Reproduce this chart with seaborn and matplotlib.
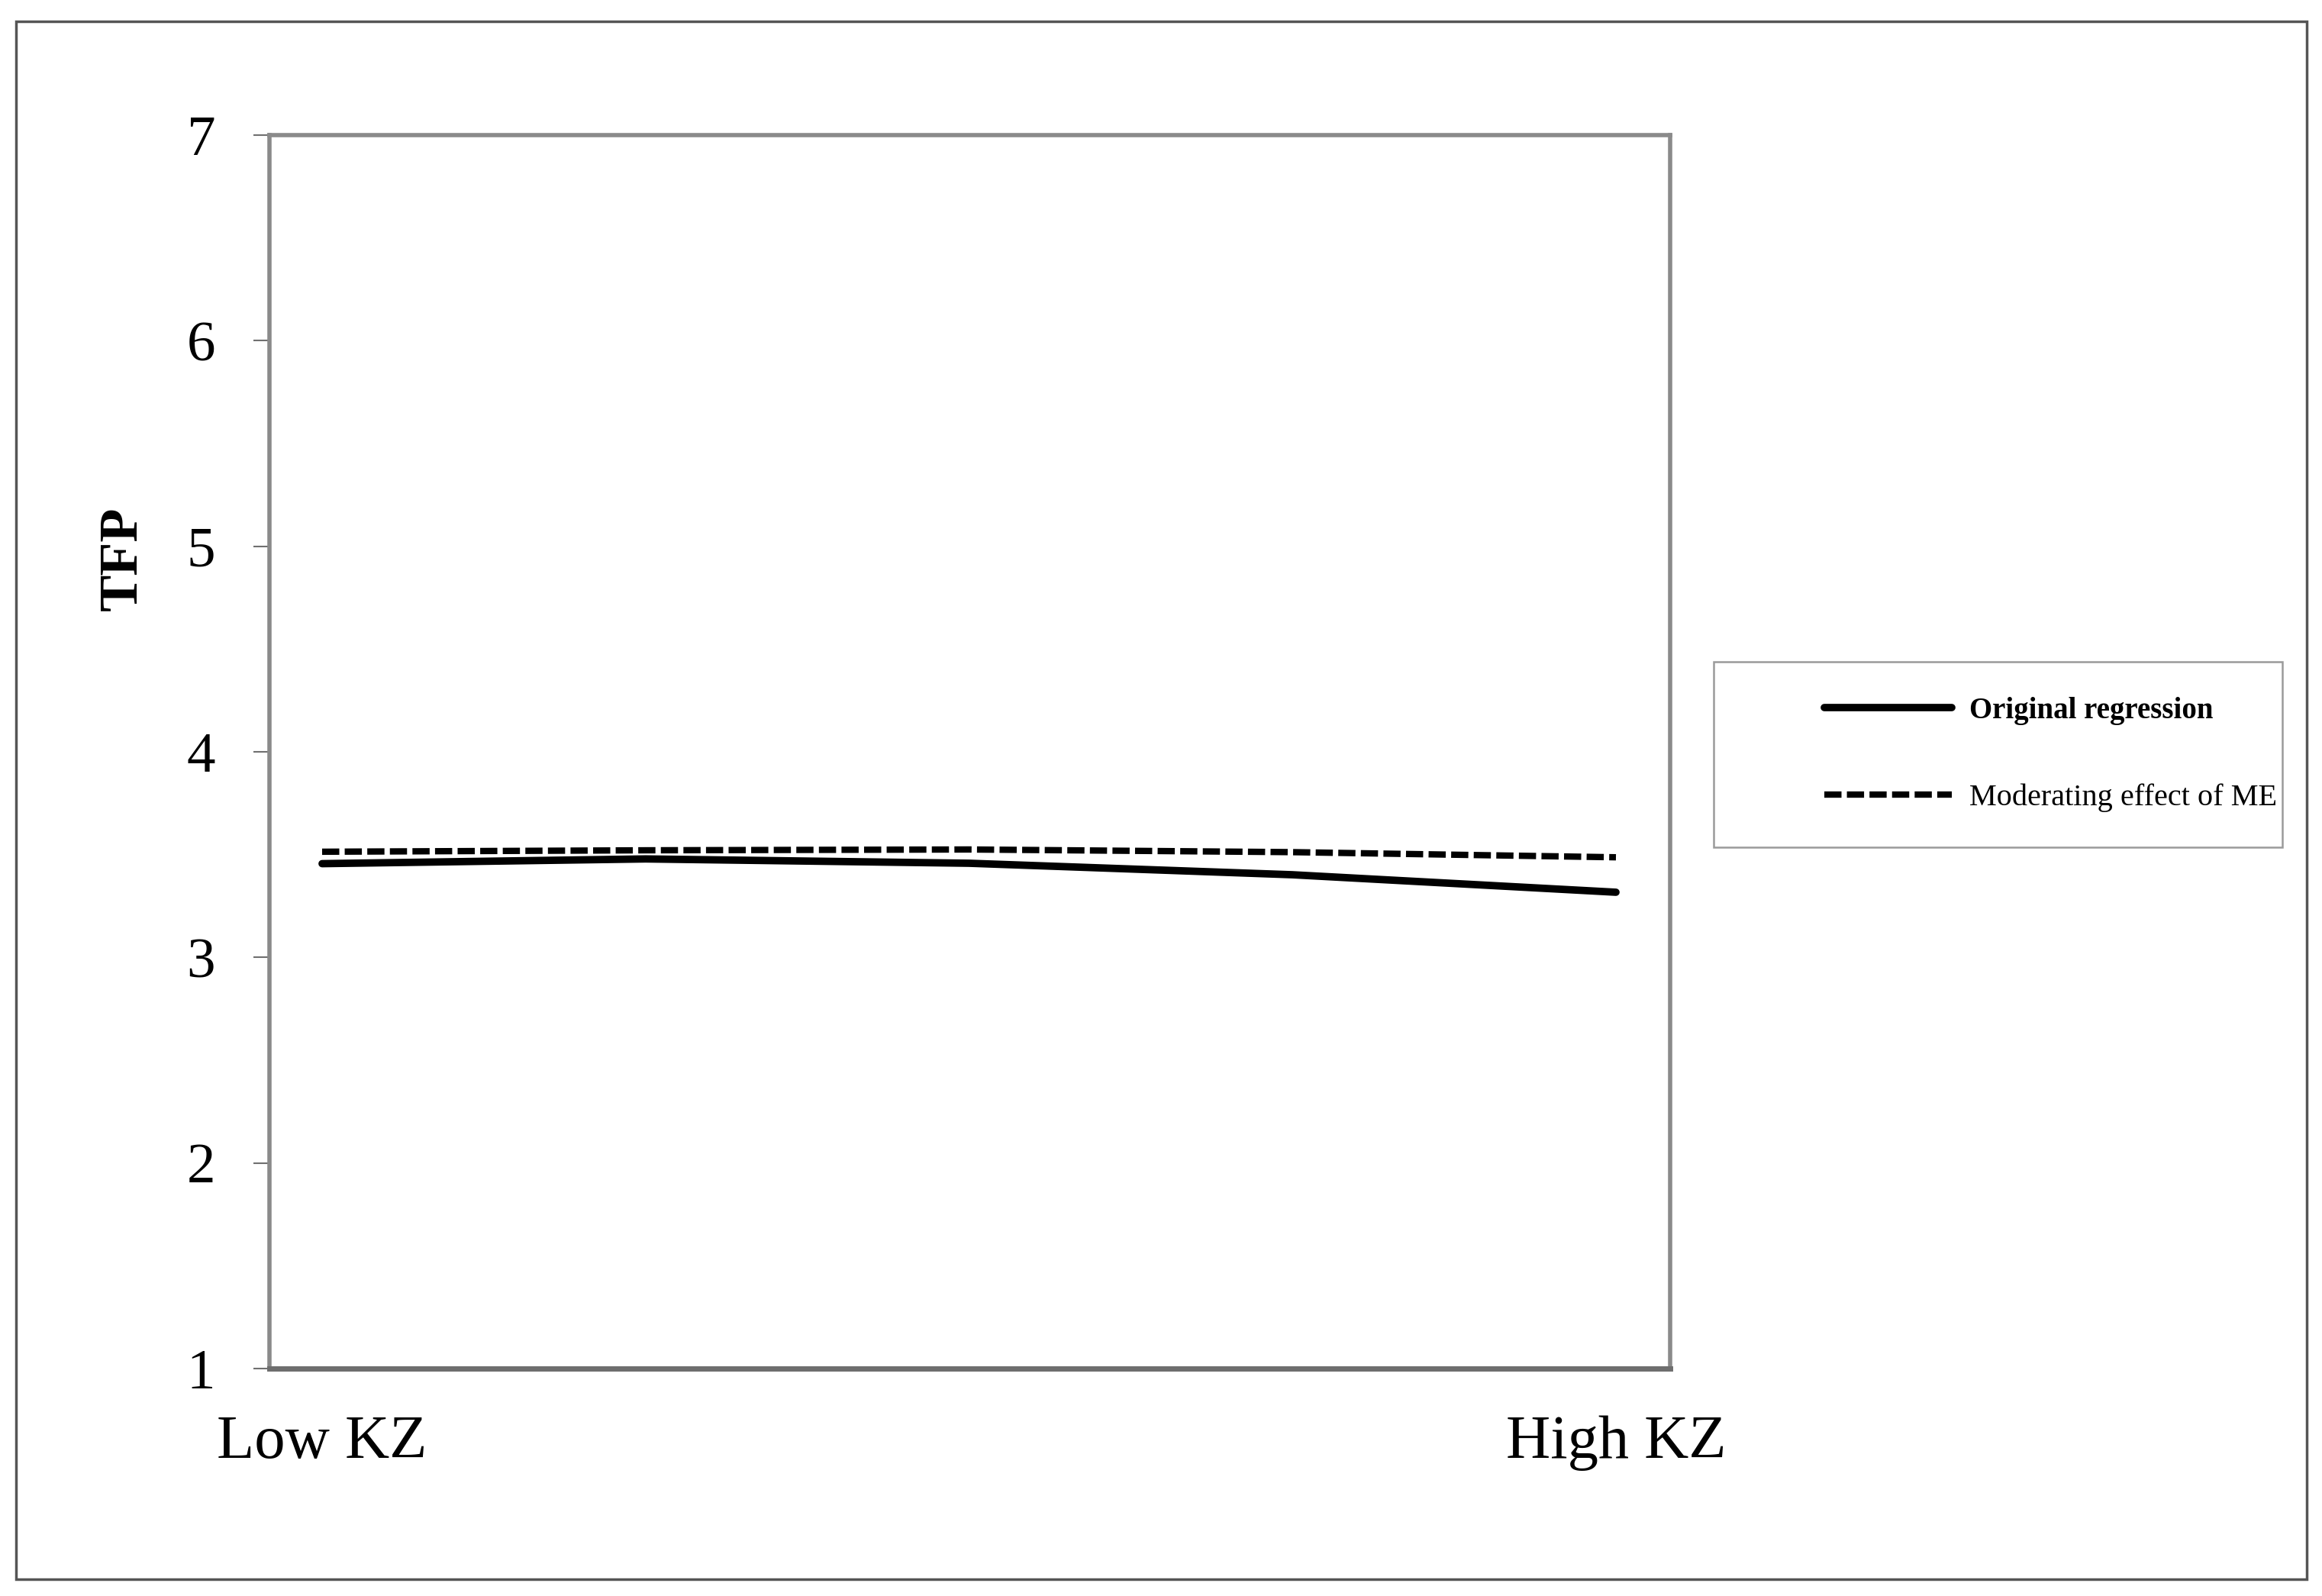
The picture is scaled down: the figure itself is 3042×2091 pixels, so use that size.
import matplotlib
matplotlib.use("Agg")
import matplotlib.pyplot as plt
import matplotlib.patches as mpatches
import numpy as np
import pandas as pd
import seaborn as sns

# ---- data ----
kz_position = [0.0, 0.25, 0.5, 0.75, 1.0]
original_regression = [3.456, 3.479, 3.458, 3.402, 3.317]
moderating_effect_me = [3.514, 3.521, 3.525, 3.512, 3.487]
x_tick_labels = ["Low KZ", "High KZ"]
y_ticks = [1, 2, 3, 4, 5, 6, 7]
series_names = ["Original regression", "Moderating effect of ME"]

sns.set_theme(style="white")
plt.rcParams["font.family"] = ["Liberation Serif", "DejaVu Serif"]
plt.rcParams["text.color"] = "black"
plt.rcParams["axes.labelcolor"] = "black"
plt.rcParams["xtick.color"] = "black"
plt.rcParams["ytick.color"] = "black"

W, H = 3042, 2091
fig = plt.figure(figsize=(W / 100, H / 100), dpi=100)
ax = fig.add_axes([353 / W, 1 - 1793 / H, (2188 - 353) / W, (1793 - 177) / H])

df_orig = pd.DataFrame({"x": kz_position, "y": original_regression})
df_mod = pd.DataFrame({"x": kz_position, "y": moderating_effect_me})

sns.lineplot(data=df_mod, x="x", y="y", ax=ax, color="black", linewidth=6,
             linestyle=(0, (2.7, 0.85)), label=series_names[1])
sns.lineplot(data=df_orig, x="x", y="y", ax=ax, color="black", linewidth=7,
             label=series_names[0])

ax.set_xlim(-69 / 1695, 1 + 71 / 1695)
ax.set_ylim(1, 7)
ax.set_yticks(y_ticks)
ax.set_yticklabels([str(t) for t in y_ticks])
ax.set_xticks([0, 1])
ax.set_xticklabels(x_tick_labels)
ax.set_xlabel("")
ax.set_ylabel("TFP", fontsize=52, fontweight="bold", color="black")
ax.yaxis.set_label_coords(-0.1046, 0.6566)
ax.yaxis.label.set_verticalalignment("center")

ax.tick_params(axis="y", which="major", direction="out", length=15, width=1.5,
               color="#707070", labelcolor="black", labelsize=54, pad=36, left=True)
ax.tick_params(axis="x", which="major", length=0, labelsize=58, pad=44,
               labelcolor="black")

for name, sp in ax.spines.items():
    sp.set_visible(True)
    sp.set_color("#8a8a8a")
    sp.set_linewidth(4)
ax.spines["bottom"].set_color("#6e6e6e")
ax.spines["bottom"].set_linewidth(5)

# legend
handles, labels = ax.get_legend_handles_labels()
order = [labels.index(series_names[0]), labels.index(series_names[1])]
leg = ax.legend([handles[i] for i in order], [labels[i] for i in order],
                loc="center left",
                bbox_to_anchor=(2390 / W, 1 - 988.5 / H),
                bbox_transform=fig.transFigure,
                frameon=False, fontsize=29, handlelength=4.15,
                handletextpad=0.57, labelspacing=1.9, borderpad=0,
                borderaxespad=0)
for t in leg.get_texts():
    t.set_color("black")
leg.get_texts()[0].set_fontweight("bold")
leg.get_texts()[0].set_fontsize(28)

# legend box
fig.patches.append(mpatches.Rectangle((2245 / W, 1 - 1110 / H), 745 / W, 243 / H,
                                      transform=fig.transFigure, fill=False,
                                      edgecolor="#9a9a9a", linewidth=1.8))
# outer frame
fig.patches.append(mpatches.Rectangle((21 / W, 1 - 2069 / H), (3022 - 21) / W, (2069 - 28) / H,
                                      transform=fig.transFigure, fill=False,
                                      edgecolor="#555555", linewidth=2.5))

fig.savefig("out.png", dpi=100)
